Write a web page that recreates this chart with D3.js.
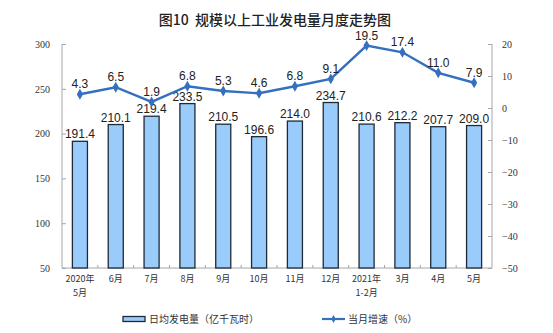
<!DOCTYPE html>
<html>
<head>
<meta charset="utf-8">
<script src="https://cdn.jsdelivr.net/npm/d3@7"></script>
<style>
  body { margin: 0; background: #fff; }
  svg { display: block; }
</style>
</head>
<body>
<svg id="chart" width="553" height="333"></svg>
<script>
// Monthly data: daily average power generation (100 million kWh) and YoY growth (%)
const months = ["2020年\n5月", "6月", "7月", "8月", "9月", "10月", "11月", "12月", "2021年\n1-2月", "3月", "4月", "5月"];
const dailyOutput = [191.4, 210.1, 219.4, 233.5, 210.5, 196.6, 214.0, 234.7, 210.6, 212.2, 207.7, 209.0];
const growthRate = [4.3, 6.5, 1.9, 6.8, 5.3, 4.6, 6.8, 9.1, 19.5, 17.4, 11.0, 7.9];
const leftTicks = [50, 100, 150, 200, 250, 300];
const rightTicks = [-50, -40, -30, -20, -10, 0, 10, 20];

(function () {
const svg = d3.select("#chart");
const plotL = 62, plotR = 492, plotT = 44, plotB = 268;
const axisColor = "#a6a6a6";
const lineColor = "#3470bf";
const barFill = "#99cbfb";
const barStroke = "#1f2a36";
const serif = "'Liberation Serif', 'DejaVu Serif', serif";
const sans = "Arial, 'Liberation Sans', sans-serif";
const cjk = "'Noto Sans CJK SC', sans-serif";

const x = d3.scaleBand().domain(months).range([plotL, plotR]).paddingInner(0.58).paddingOuter(0.29);
const xb = d3.scaleBand().domain(months).range([plotL, plotR]);
const yL = d3.scaleLinear().domain([50, 300]).range([plotB, plotT]);
const yR = d3.scaleLinear().domain([-50, 20]).range([plotB, plotT]);

// Title
svg.append("text")
  .attr("x", 275).attr("y", 25)
  .attr("text-anchor", "middle")
  .attr("font-family", cjk).attr("font-size", 14).attr("font-weight", 500)
  .attr("fill", "#222")
  .style("white-space", "pre")
  .text("图10  规模以上工业发电量月度走势图");

// Left axis
const gL = svg.append("g").attr("transform", `translate(${plotL},0)`)
  .call(d3.axisLeft(yL).tickValues(leftTicks).tickSize(-4).tickPadding(12));
gL.select(".domain").attr("stroke", axisColor).attr("d", `M0,${plotT}V${plotB}`);
gL.selectAll(".tick line").attr("stroke", axisColor);
gL.selectAll(".tick text").attr("font-family", serif).attr("font-size", 10).attr("fill", "#333");

// Right axis
const gR = svg.append("g").attr("transform", `translate(${plotR},0)`)
  .call(d3.axisRight(yR).tickValues(rightTicks).tickSize(-4).tickPadding(10));
gR.select(".domain").attr("stroke", axisColor).attr("d", `M0,${plotT}V${plotB}`);
gR.selectAll(".tick line").attr("stroke", axisColor);
gR.selectAll(".tick text").attr("font-family", serif).attr("font-size", 10).attr("fill", "#333");

// Bottom axis with ticks between categories
const gB = svg.append("g").attr("transform", `translate(0,${plotB})`);
gB.append("line").attr("x1", plotL).attr("x2", plotR).attr("stroke", axisColor);
gB.selectAll("line.sep").data(months.slice(1)).enter().append("line")
  .attr("class", "sep")
  .attr("x1", d => xb(d)).attr("x2", d => xb(d))
  .attr("y1", 0).attr("y2", -3)
  .attr("stroke", axisColor);
gB.selectAll("text.cat").data(months).enter().append("text")
  .attr("class", "cat")
  .attr("text-anchor", "middle")
  .attr("font-family", cjk).attr("font-size", 9).attr("fill", "#333")
  .each(function(d) {
    const t = d3.select(this);
    d.split("\n").forEach((line, i) => {
      t.append("tspan").attr("x", xb(d) + xb.bandwidth() / 2).attr("y", 14 + i * 14).text(line);
    });
  });

// Bars
svg.selectAll("rect.bar").data(dailyOutput).enter().append("rect")
  .attr("class", "bar")
  .attr("x", (d, i) => x(months[i]))
  .attr("width", x.bandwidth())
  .attr("y", d => yL(d))
  .attr("height", d => plotB - yL(d))
  .attr("fill", barFill)
  .attr("stroke", barStroke).attr("stroke-width", 1.3);

svg.selectAll("text.barlab").data(dailyOutput).enter().append("text")
  .attr("class", "barlab")
  .attr("x", (d, i) => xb(months[i]) + xb.bandwidth() / 2)
  .attr("y", d => yL(d) - 3)
  .attr("text-anchor", "middle")
  .attr("font-family", sans).attr("font-size", 12).attr("fill", "#222")
  .text(d => d.toFixed(1));

// Growth line
const cx = i => xb(months[i]) + xb.bandwidth() / 2;
const line = d3.line().x((d, i) => cx(i)).y(d => yR(d));
svg.append("path").datum(growthRate)
  .attr("d", line).attr("fill", "none")
  .attr("stroke", lineColor).attr("stroke-width", 2.4);

const diamond = d3.symbol().type(d3.symbolDiamond).size(34);
svg.selectAll("path.pt").data(growthRate).enter().append("path")
  .attr("class", "pt")
  .attr("d", diamond)
  .attr("transform", (d, i) => `translate(${cx(i)},${yR(d)})`)
  .attr("fill", lineColor);

svg.selectAll("text.ptlab").data(growthRate).enter().append("text")
  .attr("class", "ptlab")
  .attr("x", (d, i) => cx(i))
  .attr("y", d => yR(d) - 6)
  .attr("text-anchor", "middle")
  .attr("font-family", sans).attr("font-size", 12).attr("fill", "#222")
  .text(d => d.toFixed(1));

// Legend
const lg = svg.append("g").attr("transform", "translate(0,319)");
lg.append("rect").attr("x", 123).attr("y", -2.5).attr("width", 22).attr("height", 5)
  .attr("fill", barFill).attr("stroke", barStroke).attr("stroke-width", 1.3);
lg.append("text").attr("x", 149).attr("y", 3.5)
  .attr("font-family", cjk).attr("font-size", 10).attr("fill", "#333")
  .text("日均发电量（亿千瓦时）");
lg.append("line").attr("x1", 322).attr("x2", 345).attr("y1", 0).attr("y2", 0)
  .attr("stroke", lineColor).attr("stroke-width", 2.2);
lg.append("path").attr("d", d3.symbol().type(d3.symbolDiamond).size(18))
  .attr("transform", "translate(333.5,0)").attr("fill", lineColor);
lg.append("text").attr("x", 348).attr("y", 3.5)
  .attr("font-family", cjk).attr("font-size", 10).attr("fill", "#333")
  .text("当月增速（%）");
})();
</script>
</body>
</html>
